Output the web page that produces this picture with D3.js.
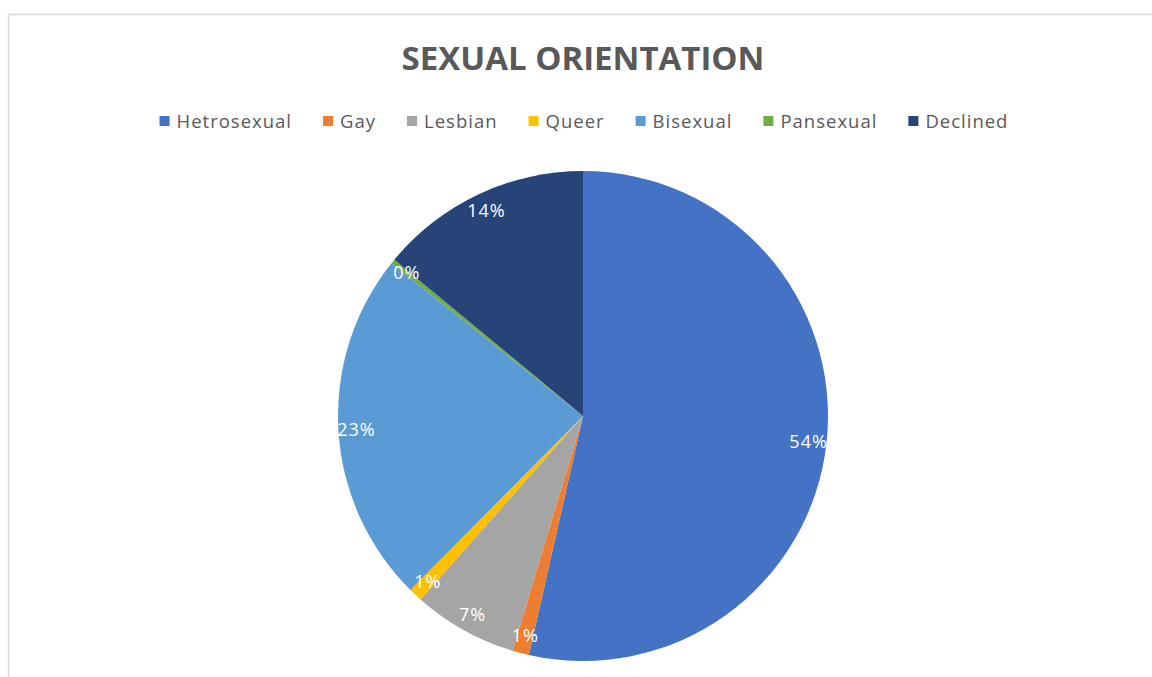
<!DOCTYPE html>
<html>
<head>
<meta charset="utf-8">
<script src="https://cdn.jsdelivr.net/npm/d3@7"></script>
<style>
  body { margin: 0; background: #fff; }
  text { font-family: "Open Sans", sans-serif; }
</style>
</head>
<body>
<div id="chart-container"></div>
<script>
// Chart data
const categories = ["Hetrosexual", "Gay", "Lesbian", "Queer", "Bisexual", "Pansexual", "Declined"];
const shares = [53.6, 1.1, 6.9, 0.9, 23.3, 0.3, 14.0];
const colors = ["#4472C4", "#ED7D31", "#A5A5A5", "#FFC000", "#5B9BD5", "#70AD47", "#264478"];
const chartTitle = "SEXUAL ORIENTATION";

const width = 1152;
const height = 677;

const svg = d3.select("#chart-container")
    .append("svg")
    .attr("width", width)
    .attr("height", height);

// Chart area border (runs off the right and bottom of the picture)
svg.append("rect")
    .attr("x", 8.5)
    .attr("y", 14.5)
    .attr("width", 1200)
    .attr("height", 800)
    .attr("fill", "none")
    .attr("stroke", "#d9d9d9")
    .attr("stroke-width", 1.5);

// Title
svg.append("text")
    .attr("x", 583)
    .attr("y", 70)
    .attr("text-anchor", "middle")
    .style("font-size", "33px")
    .style("font-weight", "bold")
    .style("fill", "#595959")
    .text(chartTitle);

// Legend
const legend = svg.append("g").attr("class", "legend");
const items = legend.selectAll("g")
    .data(categories)
    .enter().append("g");

items.append("rect")
    .attr("width", 10)
    .attr("height", 10)
    .attr("y", 116)
    .attr("fill", (d, i) => colors[i]);

items.append("text")
    .attr("x", 17)
    .attr("y", 127.5)
    .style("font-size", "18.5px")
    .style("letter-spacing", "1px")
    .style("fill", "#595959")
    .text(d => d);

// Place the legend items one after another, then centre the row
const gap = 31;
let offset = 0;
items.each(function() {
    const g = d3.select(this);
    g.attr("transform", "translate(" + offset + ",0)");
    offset += 17 + g.select("text").node().getComputedTextLength() + gap;
});
const legendWidth = offset - gap;
legend.attr("transform", "translate(" + (584 - legendWidth / 2) + ",0)");

// Pie
const cx = 583, cy = 416, radius = 245;
const pie = d3.pie().sort(null).value(d => d);
const arcs = pie(shares);
const total = d3.sum(shares);

const arc = d3.arc().innerRadius(0).outerRadius(radius);
const labelArc = d3.arc().innerRadius(227).outerRadius(227);

const pieG = svg.append("g")
    .attr("transform", "translate(" + cx + "," + cy + ")");

pieG.selectAll("path")
    .data(arcs)
    .enter().append("path")
    .attr("d", arc)
    .attr("fill", (d, i) => colors[i]);

// Data labels
const pct = d3.format(".0%");
pieG.selectAll("text.label")
    .data(arcs)
    .enter().append("text")
    .attr("class", "label")
    .attr("transform", d => "translate(" + labelArc.centroid(d) + ")")
    .attr("text-anchor", "middle")
    .attr("dy", "0.36em")
    .style("font-size", "18px")
    .style("letter-spacing", "1px")
    .style("fill", "#fff")
    .text(d => pct(d.value / total));
</script>
</body>
</html>
